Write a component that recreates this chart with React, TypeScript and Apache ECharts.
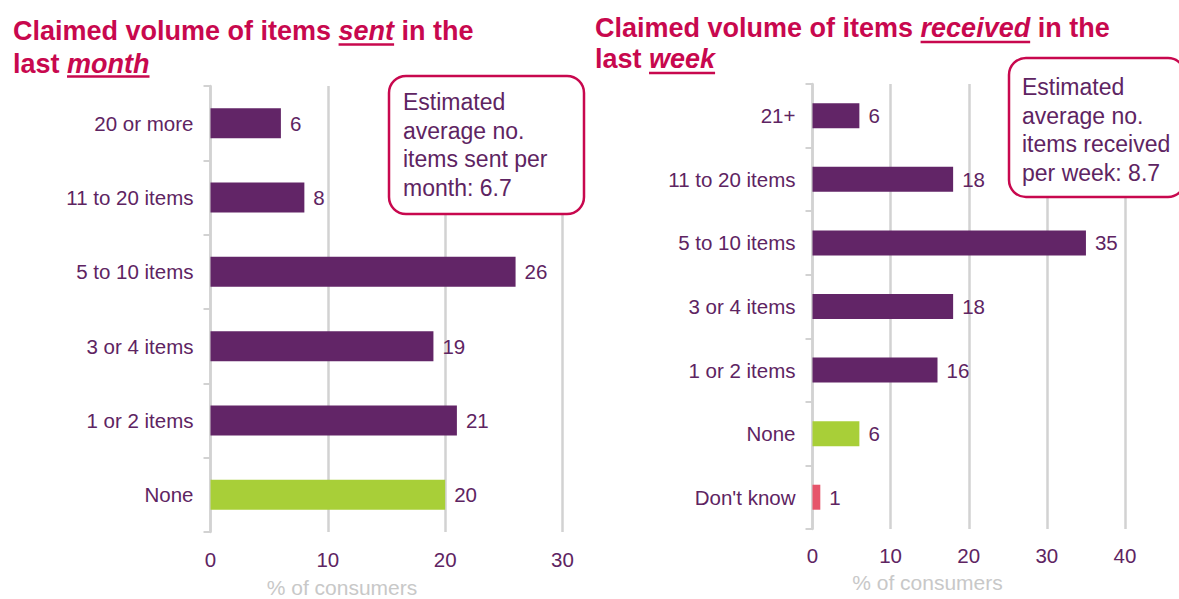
import React, { useEffect, useRef } from "react";
import * as echarts from "echarts";

// ---------- data ----------
const leftCategories = ["20 or more", "11 to 20 items", "5 to 10 items", "3 or 4 items", "1 or 2 items", "None"];
const leftValues = [6, 8, 26, 19, 21, 20];
const rightCategories = ["21+", "11 to 20 items", "5 to 10 items", "3 or 4 items", "1 or 2 items", "None", "Don't know"];
const rightValues = [6, 18, 35, 18, 16, 6, 1];
const leftAxisMax = 30;
const rightAxisMax = 40;
const tickStep = 10;
const leftTitleLines = [
  ["Claimed volume of items", "sent", "in the"],
  ["last", "month", ""],
];
const rightTitleLines = [
  ["Claimed volume of items", "received", "in the"],
  ["last", "week", ""],
];
const leftNote = ["Estimated", "average no.", "items sent per", "month: 6.7"];
const rightNote = ["Estimated", "average no.", "items received", "per week: 8.7"];
const axisTitle = "% of consumers";

// ---------- styles ----------
const FONT = "'Liberation Sans', Arial, Helvetica, sans-serif";
const PURPLE = "#622567";
const TEXT_PURPLE = "#5e2462";
const GREEN = "#a8cf38";
const PINK = "#e6556b";
const CRIMSON = "#c8084e";
const GRID_GREY = "#d2d2d2";
const NAME_GREY = "#c8c8c8";
const LABEL_SIZE = 20.5;

function measure(text: string, font: string): number {
  const ctx = document.createElement("canvas").getContext("2d");
  if (!ctx) return text.length * 14;
  ctx.font = font;
  return ctx.measureText(text).width;
}

function barColor(cat: string): string {
  if (cat === "None") return GREEN;
  if (cat === "Don't know") return PINK;
  return PURPLE;
}

function titleLine(x: number, yc: number, uy: number, parts: string[]): any[] {
  const size = 27;
  const bold = `bold ${size}px ${FONT}`;
  const ital = `italic bold ${size}px ${FONT}`;
  const [pre, em, post] = parts;
  const wPre = measure(pre + " ", bold);
  const wEm = measure(em, ital);
  const wSp = measure(" ", bold);
  const common = { fill: CRIMSON, fontSize: size, fontWeight: "bold", fontFamily: FONT, verticalAlign: "middle", align: "left" };
  const els: any[] = [
    { type: "text", x, y: yc, z: 100, style: { ...common, text: pre } },
    { type: "text", x: x + wPre, y: yc, z: 100, style: { ...common, text: em, fontStyle: "italic" } },
    {
      type: "line",
      z: 100,
      shape: { x1: x + wPre, y1: uy, x2: x + wPre + wEm, y2: uy },
      style: { stroke: CRIMSON, lineWidth: 2.5 },
    },
  ];
  if (post) {
    els.push({ type: "text", x: x + wPre + wEm + wSp, y: yc, z: 100, style: { ...common, text: post } });
  }
  return els;
}

function noteBox(x: number, y: number, w: number, h: number, tx: number, ty: number, lines: string[]): any[] {
  return [
    {
      type: "rect",
      z: 100,
      shape: { x, y, width: w, height: h, r: 17 },
      style: { fill: "#ffffff", stroke: CRIMSON, lineWidth: 2.5 },
    },
    {
      type: "text",
      z: 101,
      x: tx,
      y: ty,
      style: {
        text: lines.join("\n"),
        fill: TEXT_PURPLE,
        fontSize: 23,
        fontFamily: FONT,
        lineHeight: 28.5,
        verticalAlign: "top",
        align: "left",
      },
    },
  ];
}

export default function App() {
  const ref = useRef<HTMLDivElement>(null);

  useEffect(() => {
    if (!ref.current) return;
    const chart = echarts.init(ref.current, undefined, { renderer: "svg" });

    const yAxisCommon = {
      type: "category" as const,
      inverse: true,
      axisLine: { show: true, lineStyle: { color: GRID_GREY, width: 2.5 } },
      axisTick: { show: true, length: 7, lineStyle: { color: GRID_GREY, width: 2 } },
      axisLabel: { color: TEXT_PURPLE, fontSize: LABEL_SIZE, fontFamily: FONT, margin: 17 },
      splitLine: { show: false },
    };
    const xAxisCommon = {
      type: "value" as const,
      min: 0,
      interval: tickStep,
      axisLine: { show: false },
      axisTick: { show: false },
      splitLine: { show: true, lineStyle: { color: GRID_GREY, width: 2.5 } },
    };

    const labelStyle = {
      show: true,
      position: "right" as const,
      distance: 9,
      color: TEXT_PURPLE,
      fontSize: LABEL_SIZE,
      fontFamily: FONT,
    };

    chart.setOption({
      animation: false,
      backgroundColor: "#ffffff",
      textStyle: { fontFamily: FONT },
      grid: [
        { left: 210.5, width: 352, top: 86, height: 446, containLabel: false },
        { left: 812.5, width: 312.5, top: 84, height: 445, containLabel: false },
      ],
      xAxis: [
        {
          ...xAxisCommon,
          gridIndex: 0,
          max: leftAxisMax,
          axisLabel: { color: TEXT_PURPLE, fontSize: LABEL_SIZE, fontFamily: FONT, margin: 17 },
        },
        {
          ...xAxisCommon,
          gridIndex: 1,
          max: rightAxisMax,
          axisLabel: { color: TEXT_PURPLE, fontSize: LABEL_SIZE, fontFamily: FONT, margin: 16 },
        },
      ],
      yAxis: [
        { ...yAxisCommon, gridIndex: 0, data: leftCategories },
        { ...yAxisCommon, gridIndex: 1, data: rightCategories },
      ],
      series: [
        {
          type: "bar",
          xAxisIndex: 0,
          yAxisIndex: 0,
          barWidth: 30,
          label: labelStyle,
          data: leftValues.map((v, i) => ({ value: v, itemStyle: { color: barColor(leftCategories[i]) } })),
        },
        {
          type: "bar",
          xAxisIndex: 1,
          yAxisIndex: 1,
          barWidth: 25,
          label: labelStyle,
          data: rightValues.map((v, i) => ({ value: v, itemStyle: { color: barColor(rightCategories[i]) } })),
        },
      ],
      graphic: [
        ...titleLine(13, 30.5, 44.5, leftTitleLines[0]),
        ...titleLine(13, 63.5, 76.5, leftTitleLines[1]),
        ...titleLine(595, 27.5, 42, rightTitleLines[0]),
        ...titleLine(595, 59, 73, rightTitleLines[1]),
        ...noteBox(389, 76, 195, 138, 403, 88, leftNote),
        ...noteBox(1009, 58, 176, 139, 1022, 73, rightNote),
        {
          type: "text",
          z: 100,
          x: 342,
          y: 587.5,
          style: { text: axisTitle, fill: NAME_GREY, fontSize: 21, fontFamily: FONT, align: "center", verticalAlign: "middle" },
        },
        {
          type: "text",
          z: 100,
          x: 927.5,
          y: 582.5,
          style: { text: axisTitle, fill: NAME_GREY, fontSize: 21, fontFamily: FONT, align: "center", verticalAlign: "middle" },
        },
      ],
    });

    return () => chart.dispose();
  }, []);

  return (
    <div
      ref={ref}
      style={{ position: "fixed", left: 0, top: 0, width: 1179, height: 599, background: "#ffffff" }}
    />
  );
}
